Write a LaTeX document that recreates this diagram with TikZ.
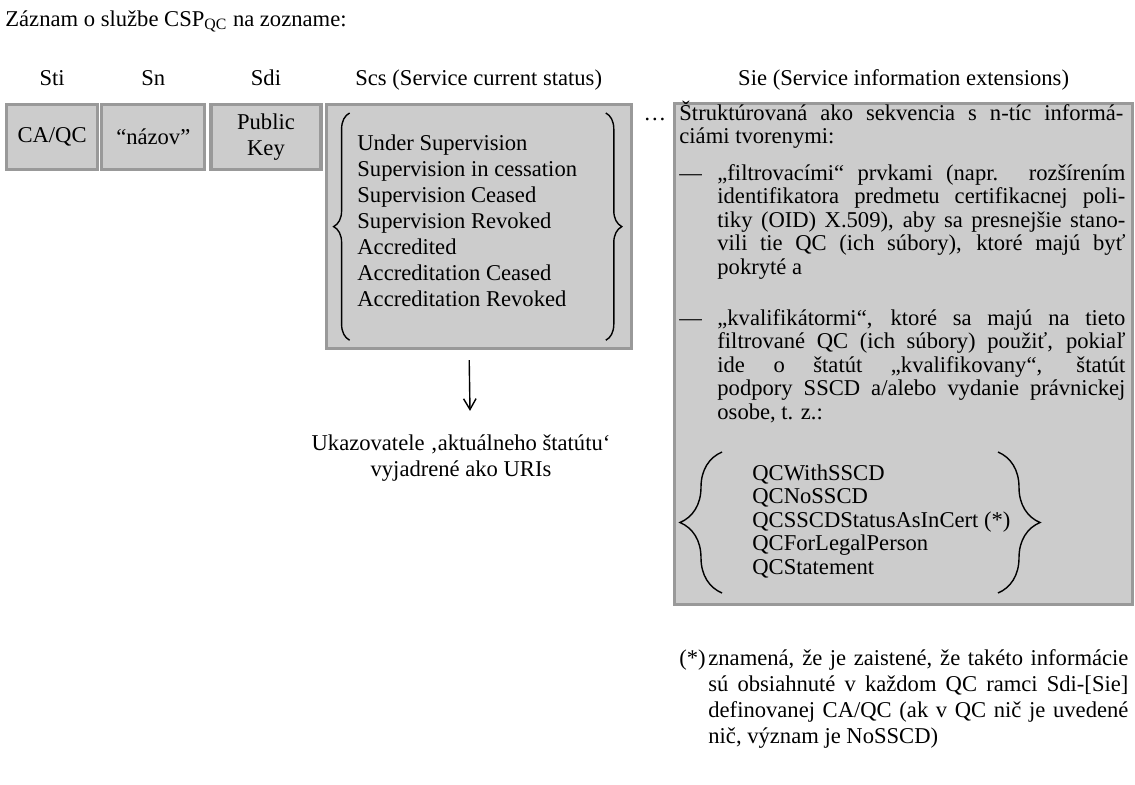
\documentclass[tikz,border=0pt]{standalone}
\usepackage{fontspec}
\setmainfont{Liberation Serif}
\usetikzlibrary{positioning, arrows.meta, calc, decorations.pathreplacing}
\tolerance=10000 \hbadness=10000

\begin{document}
\begin{tikzpicture}[
  x=0.5pt, y=-0.5pt,
  font=\fontsize{11.3}{13}\selectfont,
  every node/.style={inner sep=0pt},
  fld/.style={draw=black!40, line width=1.6pt, fill=black!20, align=center,
              anchor=north west},
  hdr/.style={anchor=base},
  txt/.style={anchor=base west, align=justify},
  tight/.style={font=\fontsize{11.3}{11.75}\selectfont},
  brc/.style={decorate, decoration={brace, amplitude=#1}, line width=0.7pt},
  brc/.default=8pt,
  darr/.style={-{Straight Barb[length=1.9mm,width=2.2mm]}, line width=0.7pt}
]
\useasboundingbox (0,0) rectangle (1135,784);
\node[anchor=base west] (title) at (5,26) {Záznam o službe CSP\textsubscript{QC} na zozname:};
% the record fields
\node[fld, minimum width=45.5pt, minimum height=32.5pt] (sti) at (5,103) {CA/QC};
\node[fld, minimum width=51.5pt, minimum height=32.5pt, right=0.5pt of sti.north east, anchor=north west] (sn) {“názov”};
\node[fld, minimum width=55pt, minimum height=32.5pt, right=1.5pt of sn.north east, anchor=north west] (sdi) {Public\\Key};
\node[fld, minimum width=152.5pt, minimum height=122pt, right=1pt of sdi.north east, anchor=north west] (scs) {};
\node[fld, minimum width=229pt, minimum height=250.5pt] (sie) at (673,102) {};
\node[hdr] (dots) at (655,120) {\ldots};
\coordinate (hdrline) at (0,85);
\foreach \b/\t in {sti/Sti, sn/Sn, sdi/Sdi, scs/Scs (Service current status),
                   sie/Sie (Service information extensions)}{
  \node[hdr] (h\b) at (\b.north |- hdrline) {\t};}
% current status values
\node[anchor=base west, align=left] (scsl) at (357,306)
  {Under Supervision\\ Supervision in cessation\\ Supervision Ceased\\
   Supervision Revoked\\ Accredited\\ Accreditation Ceased\\ Accreditation Revoked};
\draw[brc] ([shift={(25,-10)}]scs.south west) -- ([shift={(25,10)}]scs.north west);
\draw[brc] ([shift={(-27,10)}]scs.north east) -- ([shift={(-27,-10)}]scs.south east);
\node[hdr, align=center] (uri) at (461,476)
  {Ukazovatele ‚aktuálneho štatútu‘\\ vyjadrené ako URIs};
\draw[darr] ([shift={(-9.5,10)}]scs.south) -- ([shift={(9,-23)}]uri.north);
% extensions
\node[txt, tight, text width=222pt] (sieintro) at (679,120)
  {Štruktúrovaná ako sekvencia s n-tíc informá-\linebreak ciámi tvorenymi:};
\node[anchor=base west, tight] (dash1) at (679,180) {—};
\node[txt, tight, text width=204pt] (item1) at (717,180)
  {„filtrovacími“ prvkami (napr. rozšírením\linebreak
   identifikatora predmetu certifikacnej poli-\linebreak
   tiky (OID) X.509), aby sa presnejšie stano-\linebreak
   vili tie QC (ich súbory), ktoré majú byť\linebreak
   pokryté a};
\node[anchor=base west, tight] (dash2) at (679,325) {—};
\node[txt, tight, text width=204pt] (item2) at (717,325)
  {„kvalifikátormi“, ktoré sa majú na tieto\linebreak
   filtrované QC (ich súbory) použiť, pokiaľ\linebreak
   ide o štatút „kvalifikovany“, štatút\linebreak
   podpory SSCD a/alebo vydanie právnickej\linebreak
   osobe, t. z.:};
\node[anchor=base west, align=left, tight] (qcl) at (752,574)
  {QCWithSSCD\\ QCNoSSCD\\ QCSSCDStatusAsInCert (*)\\ QCForLegalPerson\\ QCStatement};
\draw[brc=21pt] (722,593) -- (722,452);
\draw[brc=21pt] (998,452) -- (998,593);
% footnote
\node[anchor=base west] (fnmark) at (679,665) {(*)};
\node[txt, text width=210pt] (fn) at (708,665)
  {znamená, že je zaistené, že takéto informácie\linebreak
   sú obsiahnuté v každom QC ramci Sdi-[Sie]\linebreak
   definovanej CA/QC (ak v QC nič je uvedené\linebreak
   nič, význam je NoSSCD)};
\end{tikzpicture}
\end{document}
